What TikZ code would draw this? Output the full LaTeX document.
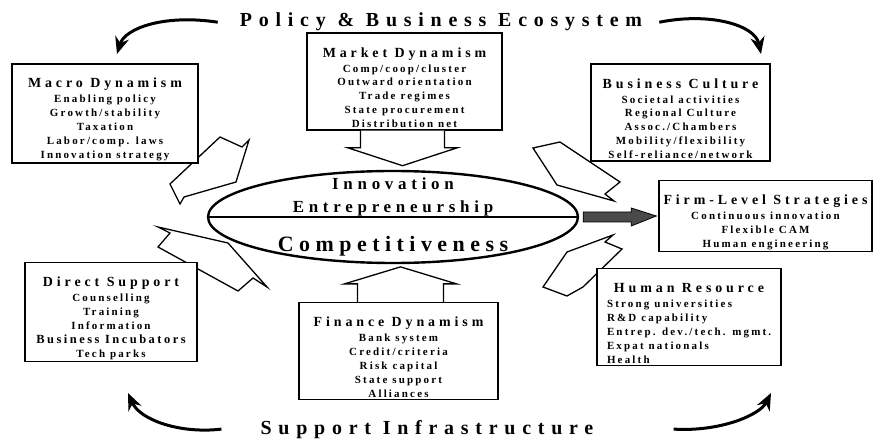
\documentclass[tikz,border=0pt]{standalone}
\usepackage{fontspec}
\setmainfont{Liberation Serif}
\newfontfamily\spacedfont[LetterSpace=28]{Liberation Serif}
\newfontfamily\widefont[LetterSpace=34]{Liberation Serif}
\newfontfamily\corefont[LetterSpace=25]{Liberation Serif}
\newfontfamily\listfont[LetterSpace=20]{Liberation Serif}
\usepackage{xcolor}
\usetikzlibrary{shapes.geometric, arrows.meta, calc}

\definecolor{arrowgrey}{HTML}{4A4A4A}

% box headings carry a tall strut so the text block sits a little low
\newcommand{\boxhead}[1]{{\spacedfont\bfseries\fontsize{14}{14}\selectfont\rule{0pt}{22bp}#1}}
\newcommand{\leftitem}[1]{\makebox[164bp][l]{#1}}

\tikzset{
  infobox/.style={
    rectangle,
    draw,
    line width=1.4bp,
    fill=white,
    align=center,
    inner sep=2bp,
    font=\listfont\bfseries\fontsize{11}{14}\selectfont
  },
  sectortitle/.style={
    anchor=base,
    inner sep=2bp,
    font=\widefont\bfseries\fontsize{20}{24}\selectfont
  },
  coretext/.style={
    anchor=base,
    inner sep=0pt,
    font=\spacedfont\bfseries\fontsize{17}{20}\selectfont
  },
  blockarrow/.style={
    draw,
    fill=white,
    line width=1.3bp,
    line join=miter
  },
  sweep/.style={
    line width=3bp,
    -{Stealth[length=17bp, width=14bp]}
  },
  darkarrow/.style={
    fill=arrowgrey,
    draw=black,
    line width=0.8bp
  }
}

\begin{document}
\begin{tikzpicture}[x=1bp, y=-1bp]
  \useasboundingbox (0,0) rectangle (875,447);

  % outer titles
  \node[sectortitle] (ptitle) at (441,27) {Policy \& Business Ecosystem};
  \node[sectortitle] (stitle) at (427,434) {Support Infrastructure};

  % curved arrows round the edge
  \coordinate (tl-tip) at (117,54);
  \coordinate (tr-tip) at (761,54);
  \coordinate (bl-tip) at (128,393);
  \coordinate (br-tip) at (771,393);
  \draw[sweep] ([xshift=-20bp]ptitle.west) .. controls (165,14) and (125,28) .. (tl-tip);
  \draw[sweep] ([xshift=15bp]ptitle.east) .. controls (710,12) and (755,25) .. (tr-tip);
  \draw[sweep] ([xshift=-37bp]stitle.west) .. controls (180,434) and (140,420) .. (bl-tip);
  \draw[sweep] ([xshift=78bp]stitle.east) .. controls (720,432) and (760,415) .. (br-tip);

  % notched arrows toward the core
  \draw[blockarrow] (220,137) -- (242,147) -- (249,140) -- (236,182) -- (184,197) -- (180,204) -- (170,184) -- cycle;
  \draw[blockarrow] (158,227) -- (228,243) -- (267,287) -- (253,278) -- (238,291) -- (158,247) -- (170,233) -- cycle;
  \draw[blockarrow] (533,148) -- (560,142) -- (620,182) -- (605,194) -- (614,201) -- (557,185) -- cycle;
  \draw[blockarrow] (613,235) -- (605,242) -- (622,249) -- (583,287) -- (567,296) -- (543,287) -- (567,252) -- cycle;

  % boxes
  \node[infobox, minimum width=186bp, minimum height=97bp] (macro) at (105,113.5)
    {\boxhead{Macro Dynamism}\\[1bp] Enabling policy\\ Growth/stability\\ Taxation\\ Labor/comp. laws\\ Innovation strategy};
  \node[infobox, minimum width=195bp, minimum height=97bp] (market) at (404.5,81.5)
    {\boxhead{Market Dynamism}\\[1bp] Comp/coop/cluster\\ Outward orientation\\ Trade regimes\\ State procurement\\ Distribution net};
  \node[infobox, minimum width=179bp, minimum height=91bp] (culture) at (680.5,112.5)
    {\boxhead{Business Culture}\\[1bp] Societal activities\\ Regional Culture\\ Assoc./Chambers\\ Mobility/flexibility\\ Self-reliance/network};
  \node[infobox, minimum width=213bp, minimum height=68bp] (firm) at (765.5,216)
    {\boxhead{Firm-Level Strategies}\\[1bp] Continuous innovation\\ Flexible CAM\\ Human engineering};
  \node[infobox, minimum width=184bp, minimum height=96bp] (human) at (689,317)
    {\boxhead{Human Resource}\\[1bp] \leftitem{Strong universities}\\ \leftitem{R\&D capability}\\ \leftitem{Entrep. dev./tech. mgmt.}\\ \leftitem{Expat nationals}\\ \leftitem{Health}};
  \node[infobox, minimum width=199bp, minimum height=96bp] (finance) at (398.5,351)
    {\boxhead{Finance Dynamism}\\[1bp] Bank system\\ Credit/criteria\\ Risk capital\\ State support\\ Alliances};
  \node[infobox, minimum width=172bp, minimum height=98bp] (direct) at (111,312)
    {\boxhead{Direct Support}\\[1bp] Counselling\\ Training\\ Information\\ {\fontsize{12.5}{14}\selectfont Business Incubators}\\ Tech parks};

  % core ellipse
  \node[ellipse, draw, line width=2.4bp, minimum width=370bp, minimum height=92bp, inner sep=0pt] (core) at (393,217) {};
  \draw[line width=1.2bp] (core.west) -- (core.east);
  \node[coretext] (innov) at (393,190) {Innovation};
  \node[coretext] (entre) at (393,213) {Entrepreneurship};
  \node[coretext, font=\corefont\bfseries\fontsize{22}{26}\selectfont] (compet) at (393,252) {Competitiveness};

  % straight arrows into and out of the core
  \draw[blockarrow] (market.south) ++(-44,0) -- ++(0,17) -- ++(-13,0) -- ++(55,18) -- ++(55,-18) -- ++(-13,0) -- ++(0,-17);
  \draw[blockarrow] (finance.north) ++(-41,0) -- ++(0,-18) -- ++(-13,0) -- ++(56,-17) -- ++(56,17) -- ++(-13,0) -- ++(0,18);
  \filldraw[darkarrow] ([shift={(4,-5)}]core.east) -- ([shift={(52,-5)}]core.east) -- ([shift={(52,-9)}]core.east)
    -- ([xshift=-2bp]firm.west) -- ([shift={(52,9)}]core.east) -- ([shift={(52,5)}]core.east) -- ([shift={(4,5)}]core.east) -- cycle;
\end{tikzpicture}
\end{document}
